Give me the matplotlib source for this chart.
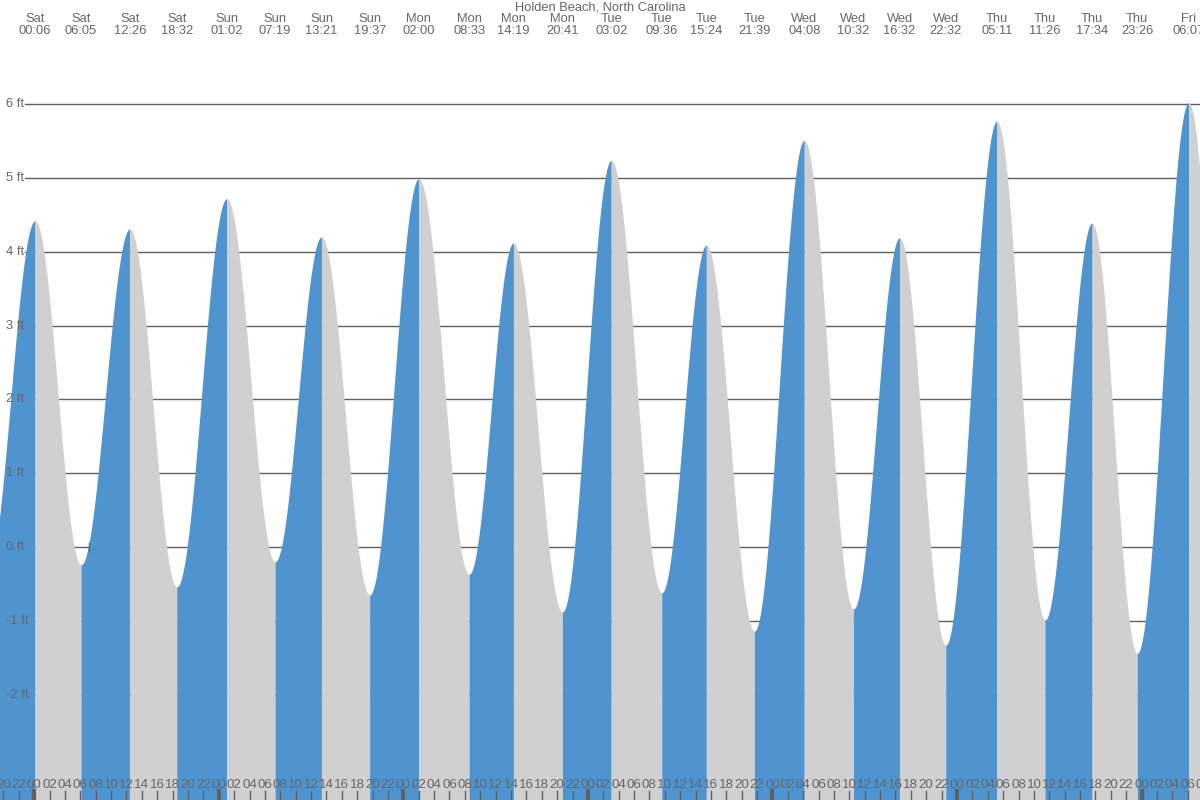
import numpy as np
import matplotlib
matplotlib.use("Agg")
import matplotlib.pyplot as plt
import matplotlib.transforms as mtransforms

plt.rcParams['font.family'] = ['Liberation Sans', 'DejaVu Sans']

title = "Holden Beach, North Carolina"

# tide extremes: day index (0 = Sat), time, height in ft
days = ["Fri", "Sat", "Sat", "Sat", "Sat", "Sun", "Sun", "Sun", "Sun",
        "Mon", "Mon", "Mon", "Mon", "Tue", "Tue", "Tue", "Tue",
        "Wed", "Wed", "Wed", "Wed", "Thu", "Thu", "Thu", "Thu", "Fri", "Fri"]
day_index = [-1, 0, 0, 0, 0, 1, 1, 1, 1, 2, 2, 2, 2, 3, 3, 3, 3,
             4, 4, 4, 4, 5, 5, 5, 5, 6, 6]
times = ["17:48", "00:06", "06:05", "12:26", "18:32", "01:02", "07:19", "13:21", "19:37",
         "02:00", "08:33", "14:19", "20:41", "03:02", "09:36", "15:24", "21:39",
         "04:08", "10:32", "16:32", "22:32", "05:11", "11:26", "17:34", "23:26",
         "06:07", "12:25"]
heights = [-0.40, 4.42, -0.24, 4.31, -0.54, 4.72, -0.20, 4.20, -0.65,
           4.99, -0.37, 4.12, -0.88, 5.24, -0.62, 4.09, -1.14,
           5.51, -0.84, 4.19, -1.33, 5.77, -0.99, 4.39, -1.44,
           6.02, -1.20]
# the first and last entries lie outside the view and get no label
shown = [False] + [True] * 25 + [False]

y_ticks = [6, 5, 4, 3, 2, 1, 0, -1, -2]

blue = "#4f94cf"
gray = "#d0d0d0"
txt = "#666666"
fs = 9.3
fs_hours = 9.6

hours = np.array([d * 24 + int(s[:2]) + int(s[3:]) / 60 for d, s in zip(day_index, times)])
heights = np.array(heights)

x0, x1 = -4.45, 151.6
y0, y1 = -3.428, 7.412

fig = plt.figure(figsize=(12, 8), dpi=100)
ax = fig.add_axes([0, 0, 1, 1])
ax.set_xlim(x0, x1)
ax.set_ylim(y0, y1)
ax.axis("off")

# grid lines (behind the fill)
ytr = mtransforms.blended_transform_factory(ax.transAxes, ax.transData)
for v in y_ticks:
    ax.plot([25 / 1200, 1], [v, v], color="#606060", lw=1, zorder=1, transform=ytr)
    ax.text(6 / 1200, v, f"{v} ft", transform=ytr,
            ha="left", va="center", fontsize=fs, color=txt, zorder=5)

# cosine interpolation between extremes, filled per segment
for i in range(len(hours) - 1):
    ta, tb = hours[i], hours[i + 1]
    ha_, hb = heights[i], heights[i + 1]
    t = np.linspace(ta, tb, 200)
    h = ha_ + (hb - ha_) * (1 - np.cos(np.pi * (t - ta) / (tb - ta))) / 2
    ax.fill_between(t, y0, h, color=blue if hb > ha_ else gray, lw=0, zorder=2)

# small marker on the 0 ft line
ax.plot([7.15, 7.15], [-0.06, 0.06], color="#606060", lw=1, zorder=3)

# bottom hour ticks and labels
for hr in range(-6, 156, 2):
    midnight = hr % 24 == 0
    ax.plot([hr, hr], [y0, y0 + 9 / 73.83], color="#606060",
            lw=3 if midnight else 1, zorder=4, clip_on=True)
    ax.text(hr, y0 + 15 / 73.83, f"{hr % 24:02d}", ha="center", va="center",
            fontsize=fs_hours, color=txt, zorder=5, clip_on=True)

# top labels for each extreme
tr = mtransforms.blended_transform_factory(ax.transData, fig.transFigure)
for d, s, hr, sh in zip(days, times, hours, shown):
    if not sh:
        continue
    fig.text(hr, 1 - 19 / 800, d, transform=tr, ha="center", va="center", fontsize=fs, color=txt)
    fig.text(hr, 1 - 31 / 800, s, transform=tr, ha="center", va="center", fontsize=fs, color=txt)

fig.text(0.5, 1 - 7 / 800, title, ha="center", va="center", fontsize=fs, color=txt)

fig.savefig("out.png", dpi=100)
